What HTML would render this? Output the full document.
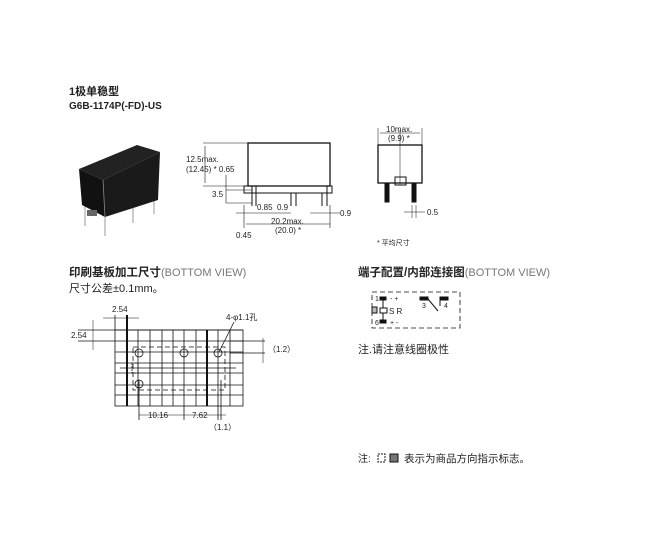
<!DOCTYPE html>
<html><head><meta charset="utf-8"><style>
html,body{margin:0;padding:0;background:#fff;}
svg{display:block}
text{font-family:"Liberation Sans","Noto Sans CJK SC",sans-serif;fill:#222}
</style></head><body>
<svg width="669" height="550" viewBox="0 0 669 550" xmlns="http://www.w3.org/2000/svg">
<text x="69" y="95" font-size="11" font-weight="bold" fill="#333">1极单稳型</text>
<text x="69" y="109" font-size="10" font-weight="bold" fill="#555">G6B-1174P(-FD)-US</text>

<g stroke="#999" stroke-width="1">
<line x1="85" y1="205" x2="85" y2="226"/><line x1="105" y1="215" x2="105" y2="236"/>
<line x1="133" y1="205" x2="133" y2="223"/><line x1="154" y1="198" x2="154" y2="214"/>
</g>
<polygon points="79,169 137,145 160,152 103,180" fill="#222"/>
<polygon points="79,169 103,180 105,217 82,205" fill="#111"/>
<polygon points="103,180 160,152 158,200 105,217" fill="#1a1a1a"/>
<line x1="103" y1="180" x2="105" y2="217" stroke="#888" stroke-width="0.8"/>
<rect x="87" y="210" width="10" height="6" fill="#666"/>
<g fill="#aaa" font-size="4"><text x="98" y="163">OMRON</text><text x="125" y="155">G6B</text></g>

<g stroke="#111" fill="none" stroke-width="1">
<rect x="248" y="143" width="82" height="43" stroke-width="1.3"/>
<rect x="244" y="186" width="88" height="7"/>
<line x1="252" y1="186" x2="252" y2="206"/><line x1="256" y1="186" x2="256" y2="206"/>
<line x1="291" y1="193" x2="291" y2="206"/><line x1="296" y1="193" x2="296" y2="206"/>
<line x1="322" y1="193" x2="322" y2="206"/><line x1="327" y1="186" x2="327" y2="206"/>
<line x1="203" y1="143" x2="248" y2="143" stroke-width="0.6"/>
<line x1="203" y1="186" x2="244" y2="186" stroke-width="0.6"/>
<line x1="205" y1="146" x2="205" y2="183" stroke-width="0.6"/>
<line x1="226" y1="190" x2="252" y2="190" stroke-width="0.6"/>
<line x1="226" y1="203" x2="252" y2="203" stroke-width="0.6"/>
<line x1="226" y1="175" x2="226" y2="203" stroke-width="0.6"/>
<line x1="236" y1="213" x2="270" y2="213" stroke-width="0.6"/>
<line x1="246" y1="224" x2="330" y2="224" stroke-width="0.6"/>
<line x1="244" y1="205" x2="244" y2="228" stroke-width="0.6"/>
<line x1="330" y1="205" x2="330" y2="228" stroke-width="0.6"/>
<line x1="270" y1="213" x2="291" y2="213" stroke-width="0.6"/>
<line x1="310" y1="213" x2="340" y2="213" stroke-width="0.6"/>
</g>
<g font-size="8">
<text x="186" y="162">12.5max.</text><text x="186" y="172">(12.45) * 0.65</text>
<text x="212" y="197">3.5</text><text x="257" y="210">0.85</text><text x="277" y="210">0.9</text>
<text x="340" y="216">0.9</text><text x="271" y="224">20.2max.</text><text x="275" y="233">(20.0) *</text>
<text x="236" y="238">0.45</text>
</g>

<g stroke="#111" fill="none">
<rect x="378" y="145" width="44" height="38" stroke-width="1.3"/>
<rect x="395" y="177" width="11" height="8"/>
<rect x="385" y="183" width="4" height="19" fill="#111"/>
<rect x="412" y="183" width="4" height="19" fill="#111"/>
<line x1="400" y1="130" x2="400" y2="185" stroke-width="0.5"/>
<line x1="378" y1="128" x2="378" y2="145" stroke-width="0.5"/>
<line x1="422" y1="128" x2="422" y2="145" stroke-width="0.5"/>
<line x1="380" y1="133" x2="420" y2="133" stroke-width="0.5"/>
<line x1="404" y1="212" x2="425" y2="212" stroke-width="0.5"/>
<line x1="412" y1="205" x2="412" y2="218" stroke-width="0.5"/><line x1="416" y1="205" x2="416" y2="218" stroke-width="0.5"/>
</g>
<g font-size="8"><text x="386" y="132">10max.</text><text x="388" y="141">(9.9) *</text><text x="427" y="215">0.5</text>
<text x="377" y="245" font-size="7">* 平均尺寸</text></g>

<text x="69" y="276" font-size="11.5" font-weight="bold">印刷基板加工尺寸<tspan font-weight="normal" font-size="11" fill="#777">(BOTTOM VIEW)</tspan></text>
<text x="69" y="292" font-size="11" fill="#333">尺寸公差±0.1mm。</text>
<g stroke="#111" stroke-width="0.8" fill="none">
<rect x="115" y="330" width="128" height="76"/>
<line x1="138" y1="330" x2="138" y2="406"/><line x1="150" y1="330" x2="150" y2="406"/>
<line x1="162" y1="330" x2="162" y2="406"/><line x1="173" y1="330" x2="173" y2="406"/>
<line x1="184" y1="330" x2="184" y2="420"/><line x1="196" y1="330" x2="196" y2="406"/>
<line x1="218" y1="330" x2="218" y2="420"/><line x1="230" y1="330" x2="230" y2="406"/>
<line x1="127" y1="315" x2="127" y2="406" stroke-width="2"/><line x1="207" y1="330" x2="207" y2="406" stroke-width="2"/>
<line x1="78" y1="330" x2="243" y2="330"/><line x1="78" y1="341" x2="243" y2="341"/>
<line x1="115" y1="352" x2="243" y2="352"/><line x1="115" y1="363" x2="243" y2="363"/>
<line x1="115" y1="373" x2="243" y2="373"/><line x1="115" y1="385" x2="243" y2="385"/>
<line x1="115" y1="395" x2="243" y2="395"/>
<line x1="120" y1="368" x2="236" y2="368"/>
<line x1="115" y1="315" x2="115" y2="330"/><line x1="103" y1="318" x2="139" y2="318" stroke-width="0.5"/>
<line x1="93" y1="320" x2="93" y2="350" stroke-width="0.5"/>
<line x1="139" y1="380" x2="139" y2="420"/><line x1="221" y1="380" x2="221" y2="420"/>
<line x1="139" y1="415" x2="226" y2="415" stroke-width="0.5"/>
<line x1="230" y1="353" x2="265" y2="353"/><line x1="230" y1="341" x2="265" y2="341"/>
<line x1="263" y1="338" x2="263" y2="363" stroke-width="0.5"/>
<line x1="219" y1="352" x2="234" y2="322"/>
<path d="M133 347 H225 V390 H133 Z" stroke-dasharray="5,3"/>
<rect x="132" y="363" width="6" height="10" stroke-dasharray="2,1"/>
<circle cx="139" cy="353" r="4"/><circle cx="184" cy="353" r="4"/><circle cx="218" cy="353" r="4"/><circle cx="139" cy="384" r="4"/>
</g>
<g font-size="8">
<text x="112" y="312">2.54</text><text x="71" y="338">2.54</text><text x="226" y="320">4-φ1.1孔</text>
<text x="268" y="352">（1.2）</text><text x="148" y="418">10.16</text><text x="192" y="418">7.62</text>
<text x="209" y="430">（1.1）</text>
</g>

<text x="358" y="276" font-size="11.5" font-weight="bold">端子配置/内部连接图<tspan font-weight="normal" font-size="11" fill="#777">(BOTTOM VIEW)</tspan></text>
<rect x="372" y="292" width="88" height="36" fill="none" stroke="#111" stroke-width="0.8" stroke-dasharray="5,3"/>
<g stroke="#111" fill="#111">
<rect x="380" y="297" width="6" height="3"/><rect x="380" y="320" width="6" height="3"/>
<line x1="383" y1="300" x2="383" y2="320"/>
<rect x="380" y="308" width="7" height="5" fill="#fff"/>
<rect x="372" y="307" width="5" height="6" fill="#bbb"/>
<rect x="420" y="297" width="8" height="3"/><rect x="440" y="297" width="8" height="3"/>
<line x1="428" y1="299" x2="438" y2="311" fill="none"/><line x1="440" y1="300" x2="440" y2="306"/>
</g>
<g font-size="7"><text x="375" y="301">1</text><text x="390" y="301">-  +</text><text x="389" y="314" font-size="8">S R</text>
<text x="375" y="325">6</text><text x="390" y="325">+  -</text><text x="422" y="308">3</text><text x="444" y="308">4</text></g>
<text x="358" y="353" font-size="11" fill="#333">注.请注意线圈极性</text>
<text x="358" y="462" font-size="10" fill="#333">注:</text>
<rect x="378" y="454" width="7" height="8" fill="none" stroke="#111" stroke-dasharray="2,1"/>
<rect x="390" y="454" width="8" height="8" fill="#777" stroke="#111"/>
<text x="404" y="462" font-size="10.5" fill="#333">表示为商品方向指示标志。</text>
</svg>
</body></html>
